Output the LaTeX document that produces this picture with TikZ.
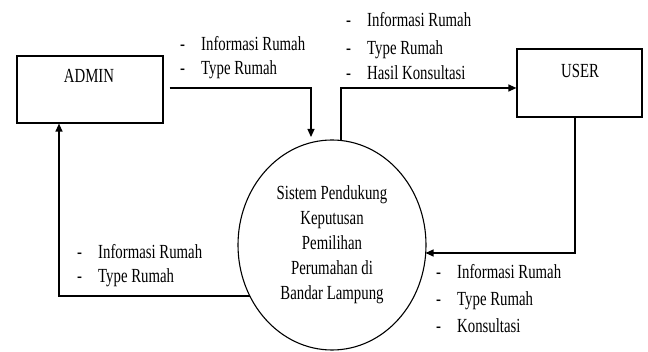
\documentclass[tikz,border=0pt]{standalone}
\usepackage{fontspec}
\setmainfont[FakeStretch=0.74]{Liberation Serif}
\usetikzlibrary{arrows.meta,shapes.geometric}
\begin{document}
\begin{tikzpicture}[x=1pt,y=-1pt,
  every node/.style={font=\fontsize{20}{25}\selectfont},
  entity/.style={draw,line width=1.2pt,minimum width=146pt,minimum height=67pt,inner sep=0pt},
  proc/.style={draw,line width=1.1pt,ellipse,minimum width=188pt,minimum height=210pt,inner sep=0pt,align=center},
  flow/.style={line width=1.2pt,-{Triangle[length=8pt,width=7pt]}},
  lbl/.style={anchor=base west,inner sep=0pt},
  dsh/.style={anchor=base west,inner sep=0pt}]
\useasboundingbox (0,0) rectangle (648,352);
% entities
\node[entity] (admin) at (90,89.5) {};
\node[inner sep=0pt,anchor=base] (admint) at (89,83) {ADMIN};
\node[entity,minimum width=125pt,minimum height=68pt] (user) at (579.5,83) {};
\node[inner sep=0pt,anchor=base] (usert) at (580,78) {USER};
% process
\node[proc] (sps) at (332,245) {Sistem Pendukung\\Keputusan\\Pemilihan\\Perumahan di\\Bandar Lampung};
% coordinates
\coordinate (a1) at (311,137);
\coordinate (c1) at (341,140.5);
\coordinate (c4) at (249.8,296);
% connectors (yshift is in canvas units: negative = down)
\draw[flow] ([xshift=6pt,yshift=1.5pt]admin.east) -| (a1);
\draw[flow] (c1) |- ([yshift=-5pt]user.west);
\draw[flow] ([xshift=-4.5pt]user.south) |- ([xshift=-1pt,yshift=-8pt]sps.east);
\draw[flow] (c4) -| ([xshift=-31pt]admin.south);
% labels top-left
\node[dsh] (d11) at (180,51) {-};
\node[lbl] (l11) at (201,51) {Informasi Rumah};
\node[dsh] (d12) at (180,75) {-};
\node[lbl] (l12) at (201,75) {Type Rumah};
% labels top-right
\node[dsh] (d21) at (346,27) {-};
\node[lbl] (l21) at (367,27) {Informasi Rumah};
\node[dsh] (d22) at (346,55) {-};
\node[lbl] (l22) at (367,55) {Type Rumah};
\node[dsh] (d23) at (346,80) {-};
\node[lbl] (l23) at (367,80) {Hasil Konsultasi};
% labels bottom-left
\node[dsh] (d31) at (77,259) {-};
\node[lbl] (l31) at (98,259) {Informasi Rumah};
\node[dsh] (d32) at (77,283) {-};
\node[lbl] (l32) at (98,283) {Type Rumah};
% labels bottom-right
\node[dsh] (d41) at (436,279) {-};
\node[lbl] (l41) at (457,279) {Informasi Rumah};
\node[dsh] (d42) at (436,306) {-};
\node[lbl] (l42) at (457,306) {Type Rumah};
\node[dsh] (d43) at (436,333) {-};
\node[lbl] (l43) at (457,333) {Konsultasi};
\end{tikzpicture}
\end{document}
